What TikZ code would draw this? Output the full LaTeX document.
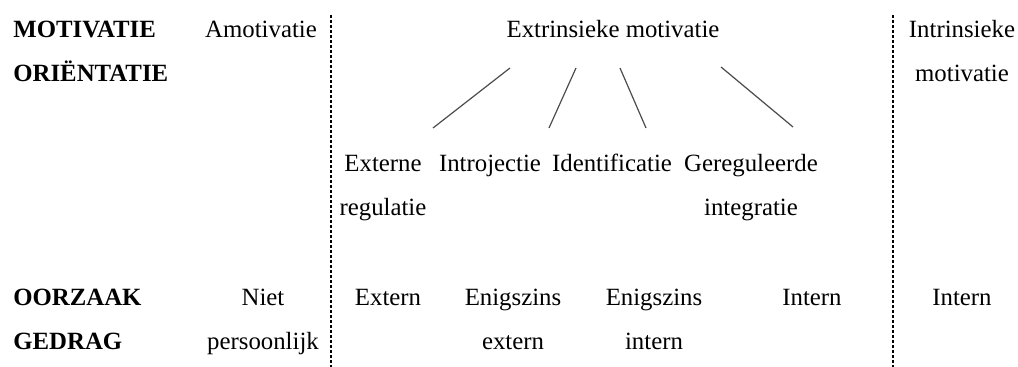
\documentclass[tikz,border=0pt]{standalone}
\usepackage{fontspec}
\setmainfont{Liberation Serif}
\begin{document}
\begin{tikzpicture}[x=0.5pt,y=-0.5pt]
            \tikzstyle{cell}=[anchor=base, inner sep=0pt, align=center, font=\fontsize{12.4}{22}\selectfont]
            \tikzstyle{head}=[cell, anchor=base west, align=left, font=\fontsize{12.4}{22}\selectfont\bfseries]
            \tikzstyle{sep}=[draw=black, line width=0.6pt, dash pattern=on 1.6pt off 0.9pt]
            \tikzstyle{branch}=[draw=black!70, line width=0.6pt]
            \useasboundingbox (0,0) rectangle (1018,367);
            % kolomkoppen (twee regels: base = onderste regel)
            \node[head] (mot) at (13,82) {MOTIVATIE\\ORIËNTATIE};
            \node[cell] (amo) at (261,38) {Amotivatie};
            \node[cell] (extr) at (613,38) {Extrinsieke motivatie};
            \node[cell] (intr) at (962,82) {Intrinsieke\\motivatie};
            % regulatiestijlen
            \node[cell] (ereg) at (383,216) {Externe\\regulatie};
            \node[cell] (intro) at (490,172) {Introjectie};
            \node[cell] (ident) at (612,172) {Identificatie};
            \node[cell] (integ) at (751,216) {Gereguleerde\\integratie};
            % oorzaak gedrag
            \node[head] (oor) at (13,350) {OORZAAK\\GEDRAG};
            \node[cell] (niet) at (263,350) {Niet\\persoonlijk};
            \node[cell] (extern) at (388,306) {Extern};
            \node[cell] (eext) at (513,350) {Enigszins\\extern};
            \node[cell] (eint) at (654,350) {Enigszins\\intern};
            \node[cell] (int1) at (812,306) {Intern};
            \node[cell] (int2) at (962,306) {Intern};
            % takken
            \coordinate (t1) at (510,68); \coordinate (b1) at (433,128);
            \coordinate (t2) at (576,68); \coordinate (b2) at (549,128);
            \coordinate (t3) at (620,68); \coordinate (b3) at (646,128);
            \coordinate (t4) at (721,67); \coordinate (b4) at (793,127);
            \path[branch] (t1) edge (b1) (t2) edge (b2) (t3) edge (b3) (t4) edge (b4);
            % scheidingslijnen
            \coordinate (s1) at (331,15); \coordinate (e1) at (331,367);
            \coordinate (s2) at (893,15); \coordinate (e2) at (893,367);
            \path[sep] (s1) -- (e1) (s2) -- (e2);
        \end{tikzpicture}
\end{document}
